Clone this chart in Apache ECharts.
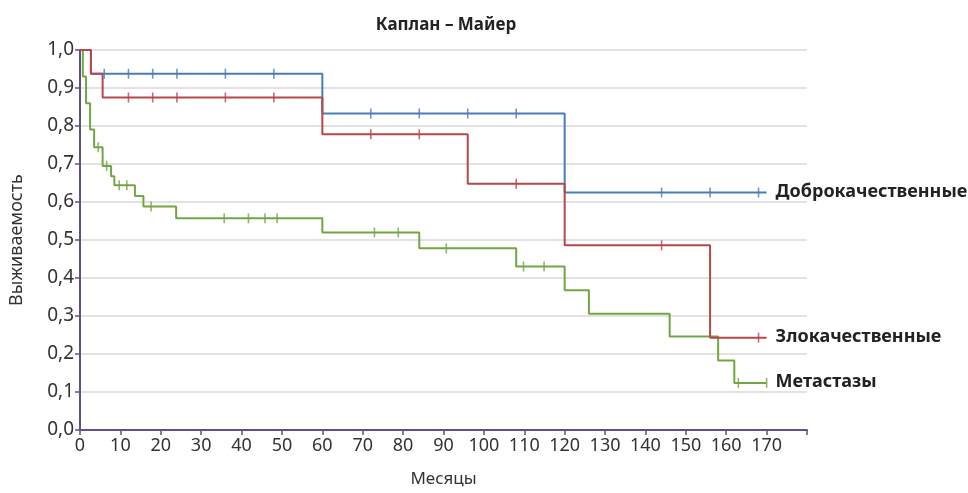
<!DOCTYPE html>
<html>
<head>
<meta charset="utf-8">
<script src="https://cdn.jsdelivr.net/npm/echarts@6/dist/echarts.min.js"></script>
<style>
  html, body { margin: 0; padding: 0; background: #fff; }
  #chart { width: 968px; height: 493px; }
</style>
</head>
<body>
<div id="chart"></div>
<script>
// Kaplan–Meier survival estimates (months, survival probability)
const benignTimes = [0, 2.7, 60, 120, 170];
const benignSurv = [1, 0.9375, 0.833, 0.625, 0.625];
const benignCensored = [6, 12, 18, 24, 36, 48, 72, 84, 96, 108, 144, 156, 168];

const malignantTimes = [0, 2.7, 5.6, 60, 96, 120, 156, 170];
const malignantSurv = [1, 0.9375, 0.875, 0.778, 0.648, 0.486, 0.243, 0.243];
const malignantCensored = [12, 18, 24, 36, 48, 72, 84, 108, 144, 168];

const metastTimes = [0, 0.7, 1.5, 2.5, 3.5, 5.6, 7.7, 8.5, 13.6, 15.7, 23.8, 60, 84, 108, 120, 126, 146, 158, 162, 170];
const metastSurv = [1, 0.930, 0.860, 0.791, 0.744, 0.695, 0.668, 0.644, 0.616, 0.588, 0.557, 0.520, 0.478, 0.430, 0.368, 0.306, 0.246, 0.183, 0.124, 0.124];
const metastCensored = [4.5, 6.6, 9.7, 11.6, 17.6, 35.7, 41.7, 45.8, 48.8, 72.9, 78.8, 90.7, 109.8, 114.9, 163, 170];

const xTicks = [0, 10, 20, 30, 40, 50, 60, 70, 80, 90, 100, 110, 120, 130, 140, 150, 160, 170];

const groups = [
  { name: 'Доброкачественные', color: '#4a7cb8', times: benignTimes, surv: benignSurv, censored: benignCensored },
  { name: 'Метастазы', color: '#72a644', times: metastTimes, surv: metastSurv, censored: metastCensored },
  { name: 'Злокачественные', color: '#b9464b', times: malignantTimes, surv: malignantSurv, censored: malignantCensored }
];

// survival value of a step curve at time t
function survAt(times, surv, t) {
  let s = surv[0];
  for (let i = 0; i < times.length; i++) {
    if (times[i] <= t) s = surv[i];
  }
  return s;
}

const FONT = 'Noto Sans';
const AXIS_COLOR = '#5e5089';

const series = [];
groups.forEach(g => {
  series.push({
    name: g.name,
    type: 'line',
    step: 'end',
    symbol: 'none',
    data: g.times.map((t, i) => [t, g.surv[i]]),
    lineStyle: { color: g.color, width: 2 },
    endLabel: {
      show: true,
      formatter: '{a}',
      distance: 9,
      fontFamily: FONT,
      fontSize: 18,
      fontWeight: 'bold',
      color: '#222',
      offset: [0, -1]
    },
    z: 2
  });
  series.push({
    name: g.name + ' (цензурированные)',
    type: 'scatter',
    symbol: 'rect',
    symbolSize: [1.6, 10],
    itemStyle: { color: g.color },
    data: g.censored.map(t => [t, survAt(g.times, g.surv, t)]),
    z: 3
  });
});

const chart = echarts.init(document.getElementById('chart'), null, { renderer: 'canvas' });
chart.setOption({
  animation: false,
  backgroundColor: '#fff',
  title: {
    text: 'Каплан – Майер',
    left: 441,
    textAlign: 'center',
    top: 12,
    textStyle: { fontFamily: FONT, fontSize: 17, fontWeight: 'bold', color: '#222' }
  },
  grid: { left: 79, right: 161, top: 50, bottom: 63 },
  xAxis: {
    type: 'value',
    min: 0,
    max: 180,
    interval: 10,
    name: 'Месяцы',
    nameLocation: 'middle',
    nameGap: 41,
    nameTextStyle: { fontFamily: FONT, fontSize: 17, color: '#333' },
    axisLine: { lineStyle: { color: AXIS_COLOR, width: 2 } },
    axisTick: { show: true, length: 5, lineStyle: { color: AXIS_COLOR, width: 1.5 } },
    axisLabel: {
      fontFamily: FONT,
      fontSize: 18,
      color: '#333',
      margin: 7,
      showMaxLabel: true,
      formatter: v => (xTicks.indexOf(v) >= 0 ? String(v) : '')
    },
    splitLine: { show: false }
  },
  yAxis: {
    type: 'value',
    min: 0,
    max: 1,
    interval: 0.1,
    name: 'Выживаемость',
    nameLocation: 'middle',
    nameGap: 54,
    nameTextStyle: { fontFamily: FONT, fontSize: 18, color: '#333' },
    axisLine: { show: true, lineStyle: { color: AXIS_COLOR, width: 2 } },
    axisTick: { show: true, length: 5, lineStyle: { color: AXIS_COLOR, width: 1.5 } },
    axisLabel: {
      fontFamily: FONT,
      fontSize: 19,
      color: '#333',
      margin: 6,
      formatter: v => v.toFixed(1).replace('.', ',')
    },
    splitLine: { show: true, lineStyle: { color: '#d9d9d9', width: 1.5 } }
  },
  series: series
});
</script>
</body>
</html>
